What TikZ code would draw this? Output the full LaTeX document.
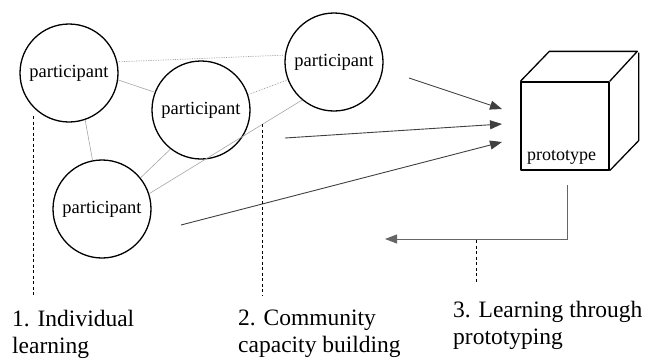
\documentclass[tikz,border=0pt]{standalone}
\usepackage{fontspec}
\setmainfont{Liberation Serif}
\usetikzlibrary{arrows.meta}

\tikzset{
	person/.style={circle,draw,line width=1.3pt,minimum size=98pt,inner sep=0pt,font=\fontsize{18.5}{20}\selectfont},
	link/.style={draw=gray!70,line width=.6pt},
	dlink/.style={draw=gray!80,line width=.7pt,densely dotted},
	flow/.style={draw=black!75,line width=.9pt,-{Triangle[length=12pt,width=9pt]}},
	phase/.style={dashed,line width=.7pt,dash pattern=on 3pt off 2.5pt},
	stage/.style={anchor=north west,align=left,inner sep=0pt,font=\fontsize{23.5}{26.5}\selectfont},
	cube/.style={line width=1.3pt,line join=round}
}

\begin{document}
\begin{tikzpicture}[x=1pt,y=-1pt]
	\useasboundingbox (0,0) rectangle (649,360);
	\def\dx{29}
	\def\dy{-30}

	% participants
	\node[person] (p1) at (69,73) {participant};
	\node[person] (p2) at (201,110) {participant};
	\node[person] (p3) at (334,62) {participant};
	\node[person] (p4) at (102,209) {participant};

	% community links
	\draw[dlink] (p1.13) -- (p3.172);
	\draw[dlink] (p2.18) -- (p3.201);
	\draw[link] (p1.-8) -- (p2.159);
	\draw[link] (p1.-71) -- (p4.101);
	\draw[link] (p2.232) -- (p4.39);
	\draw[link] (p3.230) -- (p4.18);

	% prototype
	\node[draw,cube,minimum size=88pt,inner sep=0pt] (proto) at (565,126) {};
	\draw[cube] (proto.north west) -- ++(\dx,\dy) -- ++(88,0) -- (proto.north east);
	\draw[cube] (proto.south east) -- ++(\dx,\dy) -- ++(0,-88);
	\node[anchor=base west,inner sep=0pt,font=\fontsize{18}{20}\selectfont] (protolbl) at (527,160) {prototype};

	% arrows into the prototype
	\coordinate (a1) at (409,78);
	\coordinate (a2) at (285,138);
	\coordinate (a3) at (181,225);
	\coordinate (t1) at (502,109);
	\coordinate (t2) at (502,124);
	\coordinate (t3) at (502,142);
	\draw[flow] (a1) -- (t1);
	\draw[flow] (a2) -- (t2);
	\draw[flow] (a3) -- (t3);

	% feedback
	\coordinate (b0) at (567,185);
	\coordinate (b1) at (385,239);
	\draw[flow,draw=black!60] (b0) |- (b1);

	% phases
	\node[stage] (s1) at (12,310) {1. Individual\\learning};
	\node[stage] (s2) at (238,310) {2. Community\\capacity building};
	\node[stage] (s3) at (453,301) {3. Learning through\\prototyping};
	\draw[phase] (33,116) -- (33,295);
	\draw[phase] (262,124) -- (262,296);
	\draw[phase] (476,240) -- (476,282);

\end{tikzpicture}
\end{document}
